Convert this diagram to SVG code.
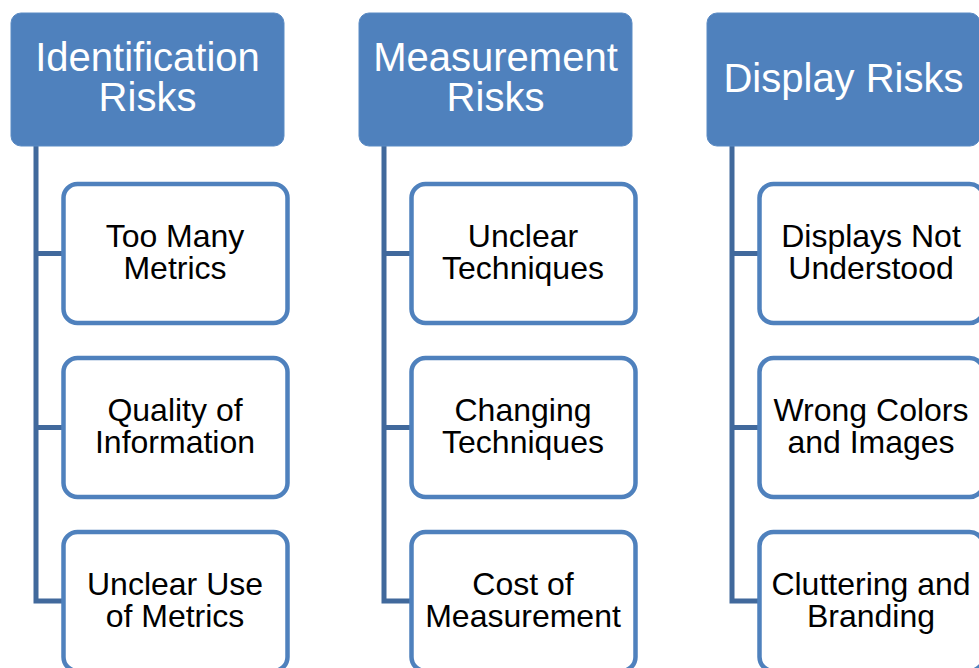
<svg xmlns="http://www.w3.org/2000/svg" width="979" height="668" viewBox="0 0 979 668">
  <style>
    .hdr rect { fill: #4F81BD; stroke: #5B8BC4; stroke-width: 1; }
    .hdr text { fill: #FFFFFF; font-family: "Liberation Sans", Arial, sans-serif; font-size: 40px; text-anchor: middle; }
    .item rect { fill: #FFFFFF; stroke: #4F81BD; stroke-width: 4.5; }
    .item text { fill: #000000; font-family: "Liberation Sans", Arial, sans-serif; font-size: 32px; text-anchor: middle; }
    .conn path { fill: none; stroke: #41699C; stroke-width: 5; stroke-linejoin: miter; }
  </style>

  <!-- connectors: spine under each header with branches to its items -->
  <g id="connectors" class="conn">
    <path d="M36 146 V601 H63 M36 253.5 H63 M36 427.5 H63"/>
    <path d="M384 146 V601 H411 M384 253.5 H411 M384 427.5 H411"/>
    <path d="M732 146 V601 H759 M732 253.5 H759 M732 427.5 H759"/>
  </g>

  <!-- column 1 -->
  <g id="identification-risks" class="hdr">
    <rect x="11" y="13" width="273" height="133" rx="10"/>
    <text x="147.5" y="71">Identification</text>
    <text x="147.5" y="111">Risks</text>
  </g>
  <g id="too-many-metrics" class="item">
    <rect x="63.5" y="184" width="224" height="139" rx="14"/>
    <text x="175" y="247">Too Many</text>
    <text x="175" y="279">Metrics</text>
  </g>
  <g id="quality-of-information" class="item">
    <rect x="63.5" y="358" width="224" height="139" rx="14"/>
    <text x="175" y="421">Quality of</text>
    <text x="175" y="453">Information</text>
  </g>
  <g id="unclear-use-of-metrics" class="item">
    <rect x="63.5" y="532" width="224" height="139" rx="14"/>
    <text x="175" y="595">Unclear Use</text>
    <text x="175" y="627">of Metrics</text>
  </g>

  <!-- column 2 -->
  <g id="measurement-risks" class="hdr">
    <rect x="359" y="13" width="273" height="133" rx="10"/>
    <text x="495.5" y="71">Measurement</text>
    <text x="495.5" y="111">Risks</text>
  </g>
  <g id="unclear-techniques" class="item">
    <rect x="411.5" y="184" width="224" height="139" rx="14"/>
    <text x="523" y="247">Unclear</text>
    <text x="523" y="279">Techniques</text>
  </g>
  <g id="changing-techniques" class="item">
    <rect x="411.5" y="358" width="224" height="139" rx="14"/>
    <text x="523" y="421">Changing</text>
    <text x="523" y="453">Techniques</text>
  </g>
  <g id="cost-of-measurement" class="item">
    <rect x="411.5" y="532" width="224" height="139" rx="14"/>
    <text x="523" y="595">Cost of</text>
    <text x="523" y="627">Measurement</text>
  </g>

  <!-- column 3 -->
  <g id="display-risks" class="hdr">
    <rect x="707" y="13" width="273" height="133" rx="10"/>
    <text x="843.5" y="92">Display Risks</text>
  </g>
  <g id="displays-not-understood" class="item">
    <rect x="759.5" y="184" width="224" height="139" rx="14"/>
    <text x="871" y="247">Displays Not</text>
    <text x="871" y="279">Understood</text>
  </g>
  <g id="wrong-colors-and-images" class="item">
    <rect x="759.5" y="358" width="224" height="139" rx="14"/>
    <text x="871" y="421">Wrong Colors</text>
    <text x="871" y="453">and Images</text>
  </g>
  <g id="cluttering-and-branding" class="item">
    <rect x="759.5" y="532" width="224" height="139" rx="14"/>
    <text x="871" y="595">Cluttering and</text>
    <text x="871" y="627">Branding</text>
  </g>
</svg>
